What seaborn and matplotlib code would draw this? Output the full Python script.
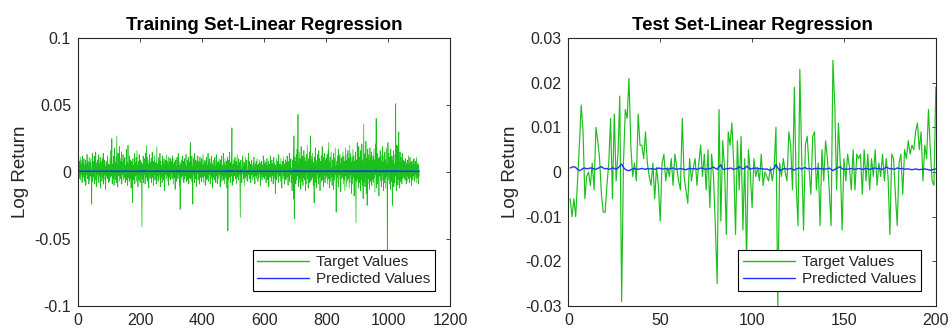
import numpy as np
import pandas as pd
import matplotlib
matplotlib.use("Agg")
import matplotlib.pyplot as plt
import seaborn as sns
from matplotlib.ticker import FixedLocator, FuncFormatter

# ---------------- data (values in 1e-3 for targets, 1e-4 for predictions) ----------------
train_target_milli = [
    21, 4, -3, 8, -5, 2, 11, -6, 3, 9, -2, 6, -8, 12, 1, -4, 7, -1, 10, -7, 3, 5, -3, 9, -10, 2, 6, -2, 13, -5, 0, 8, -4, 4, -9, 11, 2, -6, 7, -3, 10, 1, -5, -24, 3, 14, -7, 5, -2, 8,
    -4, 12, 6, -9, 3, 1, 15, -6, 4, -11, 7, -2, 9, 0, -5, 13, -8, 2, 6, -3, 11, -12, 4, 8, -1, 5, -7, 10, -4, 3, 14, -9, 1, 6, -2, 9, -6, 4, -13, 7, 2, -3, 8, -5, 12, -1, 3, -8, 6, 0,
    5, -7, 10, 2, -4, 16, -3, 8, 25, -9, 6, 1, -5, 12, 4, -10, 18, -2, 7, -6, 3, 11, -8, 9, 27, -4, 5, -11, 14, 0, 6, -3, 19, -7, 2, 10, -5, 8, -1, 15, -9, 4, 7, -2, 13, -6, 3, 9, -4, 1,
    11, -8, 5, 2, -3, 17, -6, 7, 1, -10, 20, -4, 6, 3, -7, 12, 0, -5, 9, 4, -12, 8, -2, 6, -23, 3, 10, -6, 5, 1, -4, 14, -9, 7, 2, -3, 11, -7, 4, 16, -1, 5, -11, 8, 3, -6, 13, -2, 6, -8,
    4, 9, -3, 7, -14, -41, 6, 2, -5, 12, -8, 3, 10, -2, 5, -9, 14, 1, -4, 8, 20, -6, 3, 11, -7, 2, 6, -12, 9, -1, 13, -5, 4, 7, -3, 10, -8, 1, 15, -4, 6, 2, -10, 8, -2, 5, 12, -6, 3, -1,
    7, -9, 4, 19, -3, 6, 1, -7, 11, 2, -5, 9, -2, 14, -11, 3, 8, -4, 5, 0, -8, 12, 2, -3, 7, -6, 10, 1, -14, 6, 3, -2, 9, -5, 4, 13, -7, 2, 8, -3, 5, -10, 11, 0, -4, 7, 2, -6, 10, -1,
    3, 8, -5, 12, -2, 6, -9, 1, 10, -4, 7, 2, -13, 5, 9, -3, 4, -7, 11, 0, 6, -5, 14, -2, 3, 8, -10, 5, -28, 7, 1, -4, 9, 2, -6, 12, -3, 5, -1, 8, -8, 3, 10, -5, 6, 1, -3, 13, -7, 4,
    2, -6, 9, 5, -2, 11, -9, 3, 7, -4, 15, 22, -5, 8, 1, -7, 12, -3, 4, -24, 6, 10, -2, 3, -8, 14, 0, 5, -5, 9, 2, -11, 7, -1, 4, 12, -6, 3, 8, -3, 6, -9, 11, 1, -4, 7, 2, -7, 10, -2,
    5, -4, 13, 3, -8, 6, 1, -3, 9, -10, 4, 7, -2, 11, -6, 2, 5, -5, 14, 0, -7, 8, 3, -2, 10, -9, 4, 6, -3, 12, -5, 1, 7, -12, 5, 2, -4, 9, 3, -6, 11, -1, 4, -8, 6, 13, -3, 2, -9, 7,
    1, 8, -5, 4, 10, -2, 6, -11, 3, 9, -4, 12, 0, -7, 5, 2, -3, 14, -6, 4, 7, -9, 1, 10, -3, 5, -5, 8, 2, -12, 6, 11, -44, 4, -6, 9, 1, 15, -4, 3, -8, 7, 2, 12, -3, 33, -10, 5, -2, 6,
    -7, 4, 9, -3, 2, 11, -5, 6, -1, 8, -9, 3, 13, -4, 5, 1, -6, 10, -2, 4, 7, -13, -34, 5, 9, -3, 2, -8, 6, 12, -1, 4, -5, 8, 0, -10, 7, 3, -4, 11, 2, -6, 5, 9, -3, 1, -7, 6, 14, -2,
    4, -5, 8, 1, -3, 6, -8, 3, 9, -2, 5, 0, -6, 7, 2, -4, 11, -1, 3, -9, 6, 4, -3, 8, -5, 2, 10, -2, 5, -7, 1, 6, -4, 9, 3, -1, 7, -10, 4, 2, -3, 8, -6, 5, 1, -2, 12, -4, 3, 6,
    -5, 9, 2, -3, 7, -8, 4, 1, 10, -6, 3, 5, -2, 8, -11, 6, 0, 4, -4, 12, -1, 5, -7, 3, 9, -3, 2, 6, -9, 4, 11, -5, 1, 7, -2, -16, 5, 3, -6, 10, 2, -4, 8, -1, 5, -8, 13, 0, 4, -3,
    6, -7, 3, 10, -2, 5, -12, 4, 1, 8, -5, 2, 11, -3, 6, -9, 4, 0, 9, -6, 3, 7, -4, 12, -1, 5, -10, 8, 2, -3, 14, -7, 4, 6, -2, 10, -8, 3, 1, -14, 9, 5, -5, 16, -20, 27, -35, 6, 11, -4,
    8, -9, 13, 2, -6, 17, -3, 5, 43, -11, 7, -5, 15, 1, -8, 10, 4, -13, 19, -2, 6, -7, 12, 3, -10, 9, -4, 16, 0, -6, 11, 5, -14, 8, -1, 13, -9, 4, 20, -5, 7, -12, 10, 2, -3, 15, -8, 6, 27, -7,
    3, 12, -6, 9, -4, 14, 1, -10, 7, -3, -23, 11, 5, -8, 18, -2, 6, -12, 9, 3, -5, 13, -1, 7, -9, 16, 2, -4, 10, -14, 5, 8, -3, 12, -7, 4, 19, -6, 1, 11, -11, 6, 3, -2, 14, -8, 9, 0, -5, 10,
    -3, 7, 13, -9, 4, 16, -5, 22, 2, -12, 8, -1, 11, -7, 5, 15, -4, 3, -10, 9, 6, -3, 14, -13, 2, 10, -6, 7, 18, -2, 4, -30, 8, 1, -8, 12, 5, -4, 17, -11, 3, 9, -2, 13, -6, 6, -15, 10, 2, -5,
    11, -4, 7, 15, -9, 3, 12, -6, 8, -14, 5, 18, -3, 9, -1, -11, 13, 4, -7, 16, 2, -5, 10, -12, 6, 20, -8, 3, 14, -2, 7, -16, 11, 1, -9, 17, 5, -4, 12, -18, 8, 2, -6, 15, -10, -38, 9, 3, -7, 22,
    -5, 13, 6, -12, 19, 2, -8, 11, -3, 16, -14, 7, 4, -6, 21, -10, 9, 1, -20, 12, 36, -7, 5, 14, -11, 8, -4, 23, -16, 3, 10, -25, 6, 17, -9, 2, 13, -5, 8, -13, 18, 1, -7, 11, -3, 15, -10, 4, 9, -6,
    12, -8, 5, 17, -4, 9, -15, 6, 21, -2, 40, -12, 7, 3, -9, 14, -5, 10, 1, -18, 11, 6, -3, 16, -7, 4, 13, -11, 8, -1, 19, -6, 3, 12, -14, 7, 2, -8, 15, -4, 9, -12, 5, 18, -3, 6, -60, 9, 22, 8,
    -6, 14, 3, -9, 11, 5, -13, 17, -2, 8, -7, 12, -25, 4, 9, -4, 16, -11, 6, 2, -8, 13, -3, 51, 7, -14, 10, 20, -5, 19, -10, 4, 12, 30, -6, 8, -12, 15, 1, -7, 11, -3, 6, -9, 14, 2, -5, 9, -2, 7,
    -4, 8, 3, -6, 10, -2, 5, -9, 7, 1, -3, 9, -7, 4, 12, -5, 2, 6, -8, 11, 0, -4, 7, 3, -10, 8, -1, 5, -6, 9, 2, -3, 10, -7, 4, 6, -2, 8, -5, 3, 11, -8, 1, 7, -4, 5, -9, 6, 2, -3,
]

train_pred_tenth_milli = [
    6, 7, 5, 6, 4, 5, 7, 6, 5, 6, 5, 4, 6, 7, 6, 5, 5, 6, 7, 5, 4, 5, 6, 6, 5, 7, 6, 5, 4, 6, 5, 6, 7, 5, 6, 4, 5, 6, 5, 7, 6, 5, 6, 3, 5, 7, 6, 5, 6, 5,
    5, 6, 4, 5, 6, 7, 5, 4, 6, 5, 6, 5, 4, 5, 6, 6, 5, 7, 5, 4, 5, 6, 5, 6, 7, 5, 4, 5, 6, 5, 6, 7, 5, 4, 6, 5, 5, 6, 4, 5, 6, 5, 7, 6, 5, 4, 5, 6, 5, 6,
    5, 4, 6, 5, 5, 6, 7, 5, 8, 5, 4, 5, 6, 5, 6, 4, 5, 7, 6, 5, 4, 6, 5, 6, 9, 6, 5, 4, 6, 5, 6, 5, 7, 5, 4, 6, 5, 6, 5, 7, 5, 6, 4, 5, 6, 5, 6, 7, 5, 4,
    6, 5, 5, 6, 4, 7, 5, 6, 5, 4, 7, 5, 6, 5, 4, 6, 5, 5, 6, 5, 4, 6, 5, 6, 3, 5, 6, 5, 6, 4, 5, 6, 5, 6, 5, 4, 6, 5, 6, 7, 5, 6, 4, 5, 6, 5, 6, 5, 6, 4,
    5, 6, 5, 6, 4, 3, 9, 11, 8, 6, 5, 6, 7, 5, 6, 4, 6, 5, 5, 6, 8, 6, 5, 6, 5, 4, 5, 6, 5, 6, 7, 5, 6, 5, 4, 6, 5, 5, 7, 5, 6, 5, 4, 6, 5, 6, 7, 5, 6, 5,
    6, 5, 5, 8, 6, 5, 6, 4, 6, 5, 5, 6, 5, 7, 4, 5, 6, 5, 6, 5, 4, 6, 5, 5, 6, 5, 6, 5, 3, 5, 6, 5, 6, 5, 6, 7, 4, 5, 6, 5, 6, 4, 6, 5, 5, 6, 5, 4, 6, 5,
    5, 6, 5, 7, 5, 6, 4, 5, 6, 5, 6, 5, 4, 5, 6, 5, 6, 4, 6, 5, 6, 5, 7, 5, 6, 6, 4, 5, 3, 6, 7, 5, 6, 5, 4, 6, 5, 6, 5, 6, 4, 5, 6, 5, 6, 5, 5, 7, 5, 5,
    5, 4, 6, 5, 5, 6, 4, 5, 6, 5, 7, 8, 5, 6, 5, 4, 6, 5, 5, 3, 5, 7, 6, 5, 4, 6, 5, 6, 5, 6, 5, 4, 6, 5, 5, 6, 4, 5, 6, 5, 6, 4, 6, 5, 5, 6, 5, 4, 6, 5,
    6, 5, 6, 5, 4, 6, 5, 5, 6, 4, 5, 6, 5, 6, 4, 5, 6, 5, 7, 5, 4, 6, 5, 5, 6, 4, 5, 6, 5, 6, 5, 5, 6, 4, 6, 5, 5, 6, 5, 4, 6, 5, 5, 4, 6, 6, 5, 5, 4, 6,
    5, 6, 5, 5, 6, 5, 6, 4, 5, 6, 5, 6, 5, 4, 6, 5, 5, 7, 5, 5, 6, 4, 5, 6, 5, 6, 4, 6, 5, 4, 6, 6, 2, 7, 10, 8, 6, 7, 5, 6, 5, 6, 5, 7, 5, 9, 6, 5, 5, 6,
    4, 5, 6, 5, 5, 6, 5, 6, 5, 6, 4, 5, 7, 5, 6, 5, 4, 6, 5, 5, 6, 4, 3, 7, 10, 9, 7, 5, 6, 6, 5, 5, 4, 6, 5, 4, 6, 5, 5, 6, 5, 4, 5, 6, 5, 5, 4, 5, 6, 5,
    5, 4, 6, 5, 5, 6, 4, 5, 6, 5, 5, 5, 4, 6, 5, 5, 6, 5, 5, 4, 6, 5, 5, 6, 4, 5, 6, 5, 5, 4, 5, 6, 5, 6, 5, 5, 6, 4, 5, 5, 5, 6, 4, 5, 5, 5, 6, 5, 5, 6,
    4, 6, 5, 5, 6, 4, 5, 5, 6, 5, 5, 5, 4, 6, 3, 6, 5, 5, 4, 6, 5, 5, 4, 5, 6, 5, 5, 6, 4, 5, 6, 4, 5, 6, 5, 4, 5, 5, 6, 5, 5, 6, 5, 5, 6, 4, 6, 5, 5, 5,
    6, 4, 5, 6, 5, 5, 4, 5, 6, 5, 4, 5, 6, 5, 6, 5, 4, 5, 6, 5, 6, 4, 5, 6, 5, 4, 5, 6, 5, 6, 7, 5, 6, 5, 5, 6, 4, 5, 5, 3, 6, 5, 5, 6, 4, 6, 3, 8, 10, 9,
    7, 6, 8, 6, 5, 7, 5, 6, 11, 7, 6, 5, 7, 5, 4, 6, 5, 4, 7, 5, 6, 4, 6, 5, 4, 6, 5, 7, 5, 4, 6, 5, 3, 6, 5, 6, 4, 5, 7, 5, 6, 4, 6, 5, 5, 6, 4, 5, 8, 5,
    5, 6, 4, 6, 5, 6, 5, 4, 6, 5, 3, 6, 5, 4, 7, 5, 6, 4, 6, 5, 4, 6, 5, 6, 4, 7, 5, 4, 6, 4, 5, 6, 5, 6, 4, 5, 7, 5, 5, 6, 4, 6, 5, 5, 6, 4, 6, 5, 4, 6,
    5, 6, 7, 4, 5, 7, 5, 8, 5, 4, 6, 5, 6, 4, 5, 7, 5, 5, 4, 6, 6, 5, 7, 4, 5, 6, 5, 5, 7, 5, 5, 3, 6, 5, 4, 6, 5, 5, 7, 4, 5, 6, 5, 6, 4, 5, 4, 6, 5, 5,
    6, 5, 5, 7, 4, 5, 6, 5, 6, 4, 5, 7, 5, 6, 5, 4, 6, 5, 4, 7, 5, 5, 6, 4, 5, 7, 4, 5, 6, 5, 5, 4, 6, 5, 4, 7, 5, 5, 6, 4, 6, 5, 4, 7, 5, 3, 6, 5, 4, 8,
    5, 6, 5, 4, 7, 5, 4, 6, 5, 7, 4, 5, 5, 4, 7, 4, 6, 5, 3, 6, 9, 6, 5, 6, 4, 6, 5, 7, 4, 5, 6, 3, 6, 7, 4, 5, 6, 5, 6, 4, 7, 5, 4, 6, 5, 6, 4, 5, 6, 5,
    6, 4, 5, 7, 5, 6, 4, 5, 7, 5, 9, 5, 6, 5, 4, 6, 5, 6, 5, 4, 6, 5, 5, 7, 4, 5, 6, 4, 6, 5, 7, 4, 5, 6, 4, 6, 5, 4, 7, 5, 6, 4, 5, 7, 5, 5, 1, 6, 9, 7,
    5, 6, 5, 4, 6, 5, 4, 7, 5, 6, 4, 6, 3, 5, 6, 5, 7, 4, 6, 5, 4, 6, 5, 10, 7, 4, 6, 5, 5, 7, 4, 5, 6, 8, 5, 6, 4, 6, 5, 4, 6, 5, 6, 4, 6, 5, 4, 6, 5, 6,
    5, 6, 5, 4, 6, 5, 6, 4, 6, 5, 5, 6, 4, 5, 6, 5, 5, 6, 4, 6, 5, 5, 6, 5, 4, 6, 5, 6, 4, 6, 5, 5, 6, 4, 5, 6, 5, 6, 4, 5, 6, 4, 5, 6, 5, 5, 4, 6, 5, 5,
]

test_target_milli = [
    -6, -10, -6, -10, -2, 6, 15, 9, -6, -1,
    0, -3, 2, -4, 10, 7, 3, -5, -9, -9,
    -3, 2, 12, -6, 13, -2, 4, 17, -29, 2,
    14, 12, 21, 6, -1, 2, -2, 13, 6, 6,
    3, 9, 2, -1, -3, 2, -6, 1, -3, -11,
    2, 4, -2, 1, -1, 3, -3, 4, 1, -2,
    -4, 12, -1, -4, -7, 3, -2, 1, 3, -3,
    2, 6, -1, 4, -4, 5, -8, 4, -1, -12,
    -25, 14, -11, 7, 1, -14, 9, 6, 11, 2,
    -14, 7, -4, 8, -13, 3, -20, 5, 0, -8,
    3, -1, 1, -2, 4, -3, 0, -1, -2, 1,
    -2, 1, 10, -30, 2, -1, 3, 0, -2, 9,
    6, -4, 19, -3, -12, 23, 3, -13, 6, 8,
    1, -5, 8, 9, -4, 2, -12, 5, -2, 7,
    3, -4, -12, 25, 15, -4, 11, 2, -13, 3,
    -2, 4, 1, -4, 5, -4, 4, 3, 4, -5,
    5, -2, 4, -4, 3, -1, 5, -3, 2, -1,
    4, -2, 3, -1, -14, 4, 3, -5, -12, 2,
    4, -5, 5, 3, 7, 4, 6, 5, 9, 11,
    5, 9, -2, 6, 3, 14, 5, -2, -3, 19,
]

test_pred_tenth_milli = [
    9, 11, 12, 10, 6, 3, 5, 8, 9, 7, 8, 9, 8, 7, 6, 8, 10, 12, 9, 7,
    8, 6, 7, 9, 8, 6, 9, 13, 18, 10, 6, 4, 3, 5, 7, 8, 7, 6, 7, 8,
    7, 6, 8, 7, 7, 8, 6, 7, 9, 8, 7, 7, 8, 6, 7, 8, 9, 7, 6, 7,
    8, 7, 6, 5, 7, 8, 7, 7, 8, 6, 7, 9, 8, 7, 6, 8, 7, 9, 11, 8,
    6, 12, 16, 7, 5, 8, 7, 9, 8, 6, 7, 8, 12, 9, 7, 8, 13, 10, 6, 8,
    8, 9, 8, 7, 8, 7, 6, 7, 5, 4, 6, 8, 17, 9, 3, 5, 7, 8, 6, 7,
    8, 6, 4, 7, 8, 9, 6, 9, 10, 7, 8, 7, 6, 8, 7, 9, 7, 8, 6, 7,
    7, 9, 6, 3, 6, 8, 10, 12, 7, 6, 7, 6, 7, 8, 7, 6, 7, 8, 7, 6,
    7, 8, 7, 6, 7, 8, 9, 7, 8, 7, 6, 8, 11, 9, 7, 8, 6, 7, 9, 8,
    7, 8, 6, 7, 7, 6, 5, 6, 7, 6, 5, 6, 6, 7, 6, 5, 4, 5, 6, 7,
]

titles = ["Training Set-Linear Regression", "Test Set-Linear Regression"]
legend_labels = ["Target Values", "Predicted Values"]
y_label = "Log Return"
left_xticks = [0, 200, 400, 600, 800, 1000, 1200]
left_yticks = [-0.1, -0.05, 0, 0.05, 0.1]
right_xticks = [0, 50, 100, 150, 200]
right_yticks = [-0.03, -0.02, -0.01, 0, 0.01, 0.02, 0.03]

# ---------------- build tables ----------------
def make_df(target_milli, pred_tenth):
    n = len(target_milli)
    idx = np.arange(1, n + 1)
    return pd.DataFrame({
        "idx": np.concatenate([idx, idx]),
        "value": np.concatenate([np.array(target_milli) / 1000.0,
                                 np.array(pred_tenth) / 10000.0]),
        "series": [legend_labels[0]] * n + [legend_labels[1]] * n,
    })

train_df = make_df(train_target_milli, train_pred_tenth_milli)
test_df = make_df(test_target_milli, test_pred_tenth_milli)

sns.set_style("white")
plt.rcParams["font.family"] = ["Liberation Sans", "DejaVu Sans"]

fig = plt.figure(figsize=(9.52, 3.34), dpi=100)
ax1 = fig.add_axes([0.082, 0.084, 0.391, 0.802])
ax2 = fig.add_axes([0.597, 0.084, 0.386, 0.802])

palette = {legend_labels[0]: "#1CC01C", legend_labels[1]: "#1F35FF"}
txt = "#262626"

def fmt(v, pos):
    if abs(v) < 1e-12:
        return "0"
    return ("%g" % v)

for ax, df, xt, yt, title, lw, plw in [
    (ax1, train_df, left_xticks, left_yticks, titles[0], 0.5, 1.0),
    (ax2, test_df, right_xticks, right_yticks, titles[1], 0.85, 1.0),
]:
    sns.lineplot(data=df, x="idx", y="value", hue="series", palette=palette,
                 estimator=None, sort=False, linewidth=lw, ax=ax)
    ax.lines[1].set_linewidth(plw)
    ax.set_xlim(xt[0], xt[-1])
    ax.set_ylim(yt[0], yt[-1])
    ax.xaxis.set_major_locator(FixedLocator(xt))
    ax.yaxis.set_major_locator(FixedLocator(yt))
    ax.yaxis.set_major_formatter(FuncFormatter(fmt))
    ax.set_xlabel("")
    ax.set_ylabel(y_label, fontsize=13.5, color=txt, labelpad=4)
    ax.set_title(title, fontsize=13.5, fontweight="bold", color="black", pad=6)
    ax.tick_params(direction="in", length=3, width=0.6, colors=txt,
                   labelsize=11.5, top=True, right=True, pad=5)
    ax.tick_params(axis="x", pad=5)
    for s in ax.spines.values():
        s.set_color(txt)
        s.set_linewidth(0.8)
    for lab in ax.get_xticklabels() + ax.get_yticklabels():
        lab.set_color(txt)
    leg = ax.legend(loc="lower right", frameon=True, fancybox=False,
                    framealpha=1, edgecolor="black", fontsize=11,
                    handlelength=3.4, handletextpad=0.45, borderaxespad=1.0,
                    labelspacing=0.2, borderpad=0.3)
    leg.get_frame().set_linewidth(0.8)
    for t in leg.get_texts():
        t.set_color(txt)
    for h in leg.get_lines():
        h.set_linewidth(1.0)

fig.savefig("out.png", dpi=100)
